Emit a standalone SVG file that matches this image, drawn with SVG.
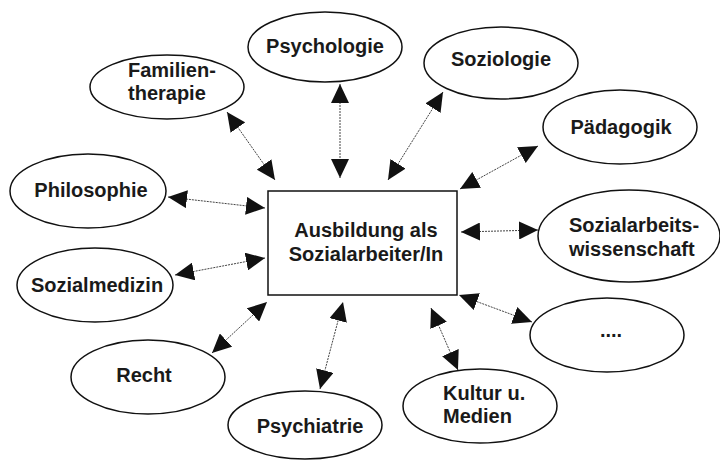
<svg xmlns="http://www.w3.org/2000/svg" width="720" height="461" viewBox="0 0 720 461">
<style>
.node ellipse{fill:#fff;stroke:#111;stroke-width:1.5}
.node rect{fill:#fff;stroke:#111;stroke-width:1.5}
text{font-family:"Liberation Sans",Arial,sans-serif;font-weight:bold;font-size:20px;fill:#1a1a1a}
.c{text-anchor:middle}
#connectors line{stroke:#444;stroke-width:1;stroke-dasharray:2 1;marker-start:url(#ah);marker-end:url(#ah)}
</style>
<defs>
<marker id="ah" viewBox="0 0 19 18" refX="19" refY="9" markerWidth="19" markerHeight="18" markerUnits="userSpaceOnUse" orient="auto-start-reverse">
<path d="M0,0 L19,9 L0,18 z" fill="#111"/>
</marker>
</defs>
<rect width="720" height="461" fill="#fff"/>
<g id="connectors">
<line x1="227" y1="112" x2="275" y2="180"/>
<line x1="340" y1="84" x2="340" y2="178"/>
<line x1="443" y1="92" x2="388" y2="180"/>
<line x1="538" y1="146" x2="460" y2="189"/>
<line x1="538" y1="230" x2="461" y2="232"/>
<line x1="532" y1="322" x2="459" y2="295"/>
<line x1="458" y1="370" x2="431" y2="308"/>
<line x1="320" y1="389" x2="343" y2="302"/>
<line x1="212" y1="353" x2="267" y2="302"/>
<line x1="175" y1="275" x2="265" y2="258"/>
<line x1="168" y1="197" x2="265" y2="208"/>
</g>
<g id="center" class="node">
<rect x="268" y="191" width="189" height="104"/>
<text class="c" x="366" y="237">Ausbildung als</text>
<text class="c" x="366" y="261">Sozialarbeiter/In</text>
</g>
<g id="psychologie" class="node">
<ellipse cx="325" cy="47" rx="77" ry="35"/>
<text class="c" x="325" y="53">Psychologie</text>
</g>
<g id="familientherapie" class="node">
<ellipse cx="167" cy="87" rx="77" ry="32"/>
<text x="128" y="77">Familien-</text>
<text x="128" y="100">therapie</text>
</g>
<g id="soziologie" class="node">
<ellipse cx="501" cy="63" rx="77" ry="36"/>
<text class="c" x="501" y="66">Soziologie</text>
</g>
<g id="paedagogik" class="node">
<ellipse cx="620" cy="127" rx="77" ry="37"/>
<text class="c" x="621" y="134">Pädagogik</text>
</g>
<g id="sozialarbeitswissenschaft" class="node">
<ellipse cx="629" cy="236" rx="91" ry="46"/>
<text x="569" y="232">Sozialarbeits-</text>
<text x="569" y="256">wissenschaft</text>
</g>
<g id="weitere" class="node">
<ellipse cx="607" cy="335" rx="77" ry="37"/>
<text class="c" x="611" y="337">....</text>
</g>
<g id="kultur" class="node">
<ellipse cx="480" cy="406" rx="77" ry="37"/>
<text x="443" y="400">Kultur u.</text>
<text x="443" y="423">Medien</text>
</g>
<g id="psychiatrie" class="node">
<ellipse cx="305" cy="425" rx="77" ry="34"/>
<text class="c" x="310" y="433">Psychiatrie</text>
</g>
<g id="recht" class="node">
<ellipse cx="148" cy="377" rx="77" ry="37"/>
<text class="c" x="144" y="382">Recht</text>
</g>
<g id="sozialmedizin" class="node">
<ellipse cx="95" cy="285" rx="78" ry="37"/>
<text class="c" x="97" y="292">Sozialmedizin</text>
</g>
<g id="philosophie" class="node">
<ellipse cx="88" cy="191" rx="78" ry="37"/>
<text class="c" x="91" y="197">Philosophie</text>
</g>
</svg>
